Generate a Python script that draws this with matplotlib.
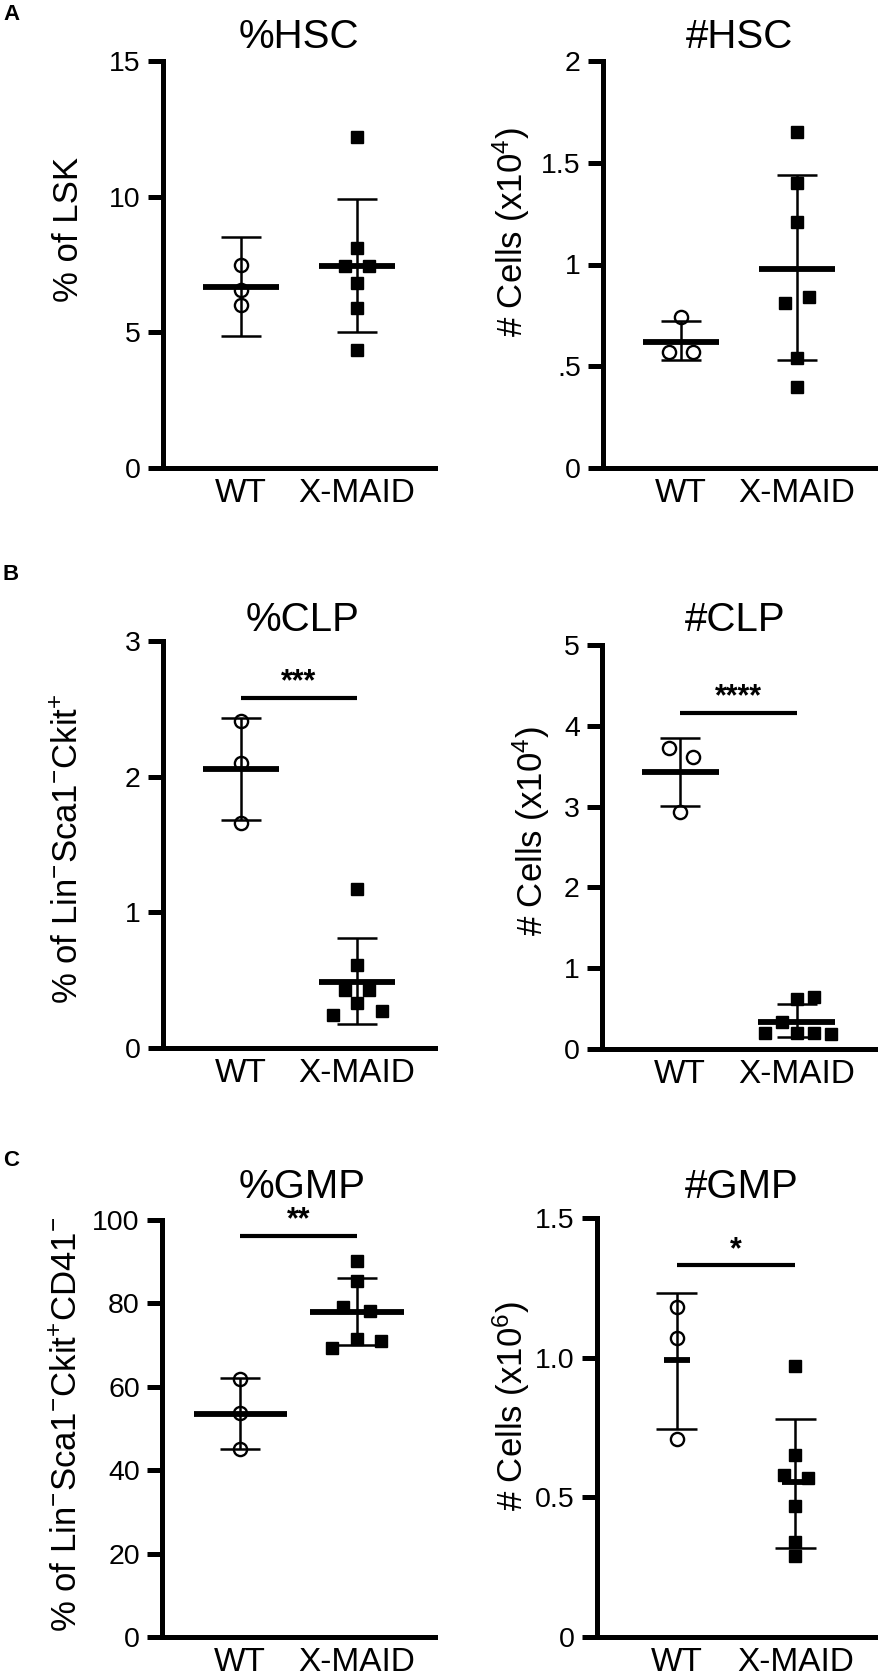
import numpy as np
import matplotlib
matplotlib.use("Agg")
import matplotlib.pyplot as plt

plt.rcParams['font.family'] = ['Liberation Sans', 'DejaVu Sans']
plt.rcParams['mathtext.fontset'] = 'custom'
plt.rcParams['mathtext.rm'] = 'Liberation Sans'
plt.rcParams['mathtext.it'] = 'Liberation Sans:italic'
plt.rcParams['mathtext.bf'] = 'Liberation Sans:bold'

# ---------------- data ----------------
groups = ["WT", "X-MAID"]

hsc_pct_wt = [7.5, 6.55, 6.0]
hsc_pct_wt_dx = [0, 0, 0]
hsc_pct_xm = [12.2, 8.1, 7.45, 7.45, 6.8, 5.9, 4.35]
hsc_pct_xm_dx = [0, 0, -0.1, 0.1, 0, 0, 0]
hsc_pct_mean = [6.68, 7.43]
hsc_pct_lo = [4.85, 5.0]
hsc_pct_hi = [8.52, 9.9]

hsc_num_wt = [0.74, 0.57, 0.57]
hsc_num_wt_dx = [0, -0.1, 0.1]
hsc_num_xm = [1.65, 1.40, 1.21, 0.81, 0.84, 0.54, 0.40]
hsc_num_xm_dx = [0, 0, 0, -0.1, 0.1, 0, 0]
hsc_num_mean = [0.62, 0.98]
hsc_num_lo = [0.53, 0.53]
hsc_num_hi = [0.72, 1.44]

clp_pct_wt = [2.41, 2.10, 1.66]
clp_pct_wt_dx = [0, 0, 0]
clp_pct_xm = [1.17, 0.61, 0.43, 0.43, 0.33, 0.24, 0.27]
clp_pct_xm_dx = [0, 0, -0.1, 0.1, 0, -0.21, 0.21]
clp_pct_mean = [2.06, 0.49]
clp_pct_lo = [1.68, 0.18]
clp_pct_hi = [2.43, 0.81]
clp_pct_sig = 2.58

clp_num_wt = [3.73, 3.61, 2.93]
clp_num_wt_dx = [-0.1, 0.11, 0]
clp_num_xm = [0.62, 0.64, 0.34, 0.20, 0.20, 0.20, 0.18]
clp_num_xm_dx = [0, 0.15, -0.13, -0.27, 0, 0.15, 0.29]
clp_num_mean = [3.43, 0.34]
clp_num_lo = [3.01, 0.15]
clp_num_hi = [3.85, 0.56]
clp_num_sig = 4.16

gmp_pct_wt = [61.9, 53.7, 45.1]
gmp_pct_wt_dx = [0, 0, 0]
gmp_pct_xm = [90.2, 85.4, 79.2, 78.2, 71.5, 71.0, 69.3]
gmp_pct_xm_dx = [0, 0, -0.12, 0.11, 0, 0.21, -0.21]
gmp_pct_mean = [53.5, 77.9]
gmp_pct_lo = [45.0, 70.0]
gmp_pct_hi = [62.0, 86.1]
gmp_pct_sig = 96.2

gmp_num_wt = [1.18, 1.07, 0.71]
gmp_num_wt_dx = [0, 0, 0]
gmp_num_xm = [0.97, 0.65, 0.58, 0.57, 0.47, 0.34, 0.29]
gmp_num_xm_dx = [0, 0, -0.1, 0.11, 0, 0, 0]
gmp_num_mean = [0.99, 0.556]
gmp_num_lo = [0.745, 0.32]
gmp_num_hi = [1.23, 0.78]
gmp_num_sig = 1.33

# ---------------- figure ----------------
W, H = 880, 1678
fig = plt.figure(figsize=(W / 100, H / 100), dpi=100)


def px_axes(left, top, right, bottom):
    return fig.add_axes([left / W, 1 - bottom / H, (right - left) / W, (bottom - top) / H])


def draw(ax, wt, wt_dx, xm, xm_dx, means, lo, hi, ylim, yticks, yticklabels,
         ylabel, lab_xy, mean_hw=0.33, sig=None, stars=None):
    xpos = [1, 2]
    ax.plot(np.array(wt_dx) + xpos[0], wt, 'o', mfc='none', mec='k', mew=1.7,
            ms=9.5, zorder=2, clip_on=False)
    ax.plot(np.array(xm_dx) + xpos[1], xm, 's', color='k', ms=8.5, zorder=2,
            clip_on=False)
    for i, x in enumerate(xpos):
        ax.vlines(x, lo[i], hi[i], color='k', lw=1.8, zorder=3)
        ax.hlines([lo[i], hi[i]], x - 0.17, x + 0.17, color='k', lw=1.8, zorder=3)
        ax.hlines(means[i], x - mean_hw, x + mean_hw, color='k', lw=4.2, zorder=3)
    if sig is not None:
        ax.hlines(sig, xpos[0], xpos[1], color='k', lw=3, zorder=3)
        ax.annotate(stars, (1.5, sig), xytext=(0, 11), textcoords='offset points',
                    ha='center', va='center', fontsize=22, fontweight='bold')
    ax.set_xlim(0.33, 2.67)
    ax.set_ylim(*ylim)
    ax.set_yticks(yticks)
    ax.set_yticklabels(yticklabels)
    ax.set_xticks(xpos)
    ax.set_xticklabels(groups)
    for s in ['top', 'right']:
        ax.spines[s].set_visible(False)
    for s in ['left', 'bottom']:
        ax.spines[s].set_linewidth(3.6)
    ax.tick_params(axis='y', length=11, width=3.6, labelsize=20.5, pad=5)
    ax.tick_params(axis='x', length=0, labelsize=24, pad=7)
    ax.set_ylabel(ylabel, fontsize=25, va='center')
    ax.yaxis.set_label_coords(*lab_xy)


ax = px_axes(163, 61, 435, 468)
draw(ax, hsc_pct_wt, hsc_pct_wt_dx, hsc_pct_xm, hsc_pct_xm_dx, hsc_pct_mean,
     hsc_pct_lo, hsc_pct_hi, (0, 15), [0, 5, 10, 15], ["0", "5", "10", "15"],
     "% of LSK", (-0.349, 0.587))

ax = px_axes(603, 61, 875, 468)
draw(ax, hsc_num_wt, hsc_num_wt_dx, hsc_num_xm, hsc_num_xm_dx, hsc_num_mean,
     hsc_num_lo, hsc_num_hi, (0, 2), [0, 0.5, 1, 1.5, 2], ["0", ".5", "1", "1.5", "2"],
     r"# Cells (x10$^{4}$)", (-0.338, 0.58))

ax = px_axes(163, 641, 435, 1048)
draw(ax, clp_pct_wt, clp_pct_wt_dx, clp_pct_xm, clp_pct_xm_dx, clp_pct_mean,
     clp_pct_lo, clp_pct_hi, (0, 3), [0, 1, 2, 3], ["0", "1", "2", "3"],
     r"% of Lin$^{-}$Sca1$^{-}$Ckit$^{+}$", (-0.349, 0.49),
     sig=clp_pct_sig, stars="***")

ax = px_axes(602, 645, 875, 1049)
draw(ax, clp_num_wt, clp_num_wt_dx, clp_num_xm, clp_num_xm_dx, clp_num_mean,
     clp_num_lo, clp_num_hi, (0, 5), [0, 1, 2, 3, 4, 5], ["0", "1", "2", "3", "4", "5"],
     r"# Cells (x10$^{4}$)", (-0.26, 0.54),
     sig=clp_num_sig, stars="****")

ax = px_axes(162, 1220, 435, 1637)
draw(ax, gmp_pct_wt, gmp_pct_wt_dx, gmp_pct_xm, gmp_pct_xm_dx, gmp_pct_mean,
     gmp_pct_lo, gmp_pct_hi, (0, 100), [0, 20, 40, 60, 80, 100],
     ["0", "20", "40", "60", "80", "100"],
     r"% of Lin$^{-}$Sca1$^{-}$Ckit$^{+}$CD41$^{-}$", (-0.345, 0.51),
     mean_hw=0.4, sig=gmp_pct_sig, stars="**")

ax = px_axes(597, 1218, 875, 1637)
draw(ax, gmp_num_wt, gmp_num_wt_dx, gmp_num_xm, gmp_num_xm_dx, gmp_num_mean,
     gmp_num_lo, gmp_num_hi, (0, 1.5), [0, 0.5, 1.0, 1.5], ["0", "0.5", "1.0", "1.5"],
     r"# Cells (x10$^{6}$)", (-0.31, 0.55),
     mean_hw=0.11, sig=gmp_num_sig, stars="*")

# titles
titles = [("%HSC", 299, 37), ("#HSC", 740, 37), ("%CLP", 303, 620),
          ("#CLP", 735, 620), ("%GMP", 302, 1187), ("#GMP", 742, 1187)]
for t, x, y in titles:
    fig.text(x / W, 1 - y / H, t, ha='center', va='center', fontsize=29)

# panel letters
for t, y in [("A", 15), ("B", 575), ("C", 1160)]:
    fig.text(11 / W, 1 - y / H, t, ha='center', va='center', fontsize=16,
             fontweight='bold')

fig.savefig("out.png", dpi=100)
